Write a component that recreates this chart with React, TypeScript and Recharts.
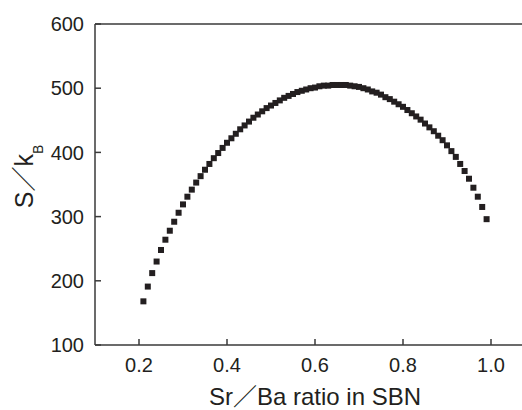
import { Label, Scatter, ScatterChart, XAxis, YAxis } from 'recharts'

const ratio = [
  0.21, 0.22, 0.23, 0.24, 0.25, 0.26, 0.27, 0.28, 0.29, 0.3,
  0.31, 0.32, 0.33, 0.34, 0.35, 0.36, 0.37, 0.38, 0.39, 0.4,
  0.41, 0.42, 0.43, 0.44, 0.45, 0.46, 0.47, 0.48, 0.49, 0.5,
  0.51, 0.52, 0.53, 0.54, 0.55, 0.56, 0.57, 0.58, 0.59, 0.6,
  0.61, 0.62, 0.63, 0.64, 0.65, 0.66, 0.67, 0.68, 0.69, 0.7,
  0.71, 0.72, 0.73, 0.74, 0.75, 0.76, 0.77, 0.78, 0.79, 0.8,
  0.81, 0.82, 0.83, 0.84, 0.85, 0.86, 0.87, 0.88, 0.89, 0.9,
  0.91, 0.92, 0.93, 0.94, 0.95, 0.96, 0.97, 0.98, 0.99,
]

const entropy = [
  168, 191, 212, 230, 248, 264, 278, 292, 306, 319,
  331, 342, 353, 363, 373, 382, 391, 399, 407, 415,
  422, 429, 436, 442, 448, 454, 459, 464, 469, 473,
  477, 481, 485, 488, 491, 494, 496, 498, 500, 501,
  503, 504, 504, 505, 505, 505, 505, 504, 503, 502,
  500, 498, 495, 493, 490, 486, 483, 479, 475, 471,
  466, 461, 456, 451, 445, 439, 433, 426, 419, 411,
  402, 393, 382, 371, 359, 345, 331, 315, 296,
]

const xMajor = [0.2, 0.4, 0.6, 0.8, 1.0]
const xMinor = [0.3, 0.5, 0.7, 0.9]
const yMajor = [100, 200, 300, 400, 500, 600]
const yMinor = [150, 250, 350, 450, 550]

const points = ratio.map((r, i) => ({ ratio: r, s: entropy[i] }))

const font = "'Liberation Sans', Arial, 'Noto Sans CJK JP', sans-serif"
const ink = '#231f20'
const axisColor = '#3a3a3a'

const SquareDot = (props: { cx?: number; cy?: number }) => {
  const { cx = 0, cy = 0 } = props
  return <rect x={cx - 3} y={cy - 3} width={6} height={6} fill={ink} />
}

const YTitle = (props: { viewBox?: { x: number; y: number; width: number; height: number } }) => {
  const vb = props.viewBox ?? { x: 95, y: 24, width: 1, height: 321 }
  const cx = 33
  const cy = vb.y + vb.height / 2 - 8
  return (
    <text x={cx} y={cy} transform={`rotate(-90, ${cx}, ${cy})`} textAnchor="middle" fontSize={25} fontFamily={font} fill={ink}>
      S／k<tspan fontSize={14} dy={10}>B</tspan>
    </text>
  )
}

export default function App() {
  return (
    <div style={{ position: 'absolute', left: 0, top: 0, width: 522, height: 410, overflow: 'hidden', background: '#fff' }}>
      <ScatterChart width={560} height={410} margin={{ top: 22, right: 25, bottom: 63, left: 93 }}>
        <XAxis
          xAxisId="x"
          type="number"
          dataKey="ratio"
          domain={[0.1, 1.1]}
          allowDataOverflow
          ticks={xMajor}
          tickFormatter={(v: number) => v.toFixed(1)}
          height={1}
          tickSize={-6}
          tickMargin={19}
          stroke={axisColor}
          strokeWidth={1.5}
          tick={{ fill: ink, fontSize: 20, fontFamily: font }}
        >
          <Label value="Sr／Ba ratio in SBN" position="bottom" offset={42} fill={ink} fontSize={24} fontFamily={font} />
        </XAxis>
        <XAxis
          xAxisId="xMinor"
          type="number"
          domain={[0.1, 1.1]}
          allowDataOverflow
          ticks={xMinor}
          height={1}
          tickSize={-4.5}
          axisLine={false}
          tick={false}
          stroke={axisColor}
          strokeWidth={1.5}
        />
        <XAxis
          xAxisId="top"
          orientation="top"
          type="number"
          domain={[0.1, 1.1]}
          allowDataOverflow
          ticks={xMajor}
          height={1}
          tickSize={-6}
          tick={false}
          stroke={axisColor}
          strokeWidth={1.5}
        />
        <XAxis
          xAxisId="topMinor"
          orientation="top"
          type="number"
          domain={[0.1, 1.1]}
          allowDataOverflow
          ticks={xMinor}
          height={1}
          tickSize={-4.5}
          axisLine={false}
          tick={false}
          stroke={axisColor}
          strokeWidth={1.5}
        />
        <YAxis
          yAxisId="y"
          type="number"
          dataKey="s"
          domain={[100, 600]}
          allowDataOverflow
          ticks={yMajor}
          width={1}
          tickSize={-6}
          tickMargin={17}
          stroke={axisColor}
          strokeWidth={1.5}
          tick={{ fill: ink, fontSize: 20, fontFamily: font }}
        >
          <Label content={<YTitle />} />
        </YAxis>
        <YAxis
          yAxisId="yMinor"
          type="number"
          domain={[100, 600]}
          allowDataOverflow
          ticks={yMinor}
          width={1}
          tickSize={-4.5}
          axisLine={false}
          tick={false}
          stroke={axisColor}
          strokeWidth={1.5}
        />
        <Scatter
          xAxisId="x"
          yAxisId="y"
          data={points}
          shape={<SquareDot />}
          isAnimationActive={false}
        />
      </ScatterChart>
    </div>
  )
}
